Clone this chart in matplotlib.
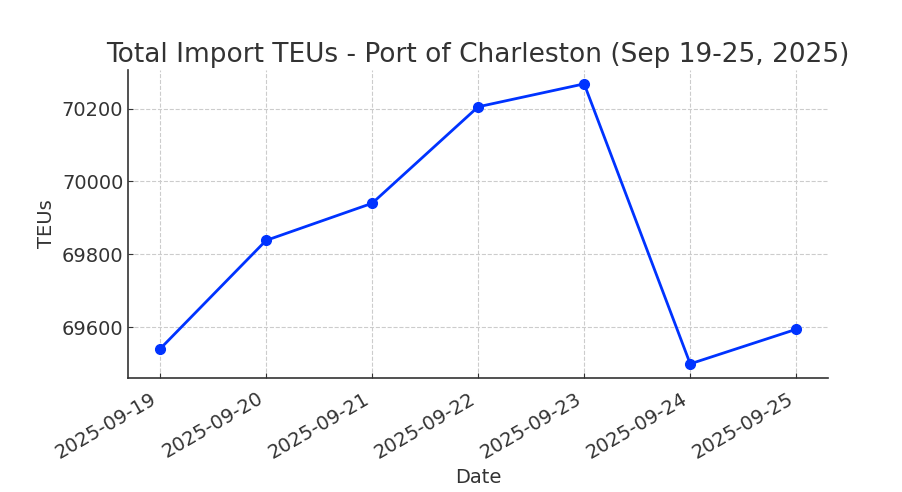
import matplotlib.pyplot as plt
import pandas as pd

dates = ['2025-09-19', '2025-09-20', '2025-09-21', '2025-09-22',
         '2025-09-23', '2025-09-24', '2025-09-25']
teus = [69540, 69838, 69940, 70205, 70268, 69499, 69594]

x = pd.to_datetime(dates)
txt = '#333333'

fig, ax = plt.subplots(figsize=(9.03, 4.92), dpi=100)
ax.plot(x, teus, marker='o', color='#0033ff', linewidth=2, markersize=7)

ax.set_title('Total Import TEUs - Port of Charleston (Sep 19-25, 2025)',
             fontsize=19, color=txt)
ax.set_xlabel('Date', fontsize=14, color=txt)
ax.set_ylabel('TEUs', fontsize=14, color=txt)
ax.set_xticks(x)
ax.set_xticklabels(dates)
ax.tick_params(axis='both', direction='in', labelsize=14, labelcolor=txt, color=txt)
ax.tick_params(axis='x', pad=8)
plt.setp(ax.get_xticklabels(), rotation=30, ha='right')

ax.grid(True, linestyle='--', color='#cccccc', linewidth=0.8)
for s in ['top', 'right']:
    ax.spines[s].set_visible(False)
for s in ['left', 'bottom']:
    ax.spines[s].set_color(txt)
    ax.spines[s].set_linewidth(1.2)

plt.subplots_adjust(left=0.142, right=0.917, top=0.858, bottom=0.232)
plt.savefig('out.png')
